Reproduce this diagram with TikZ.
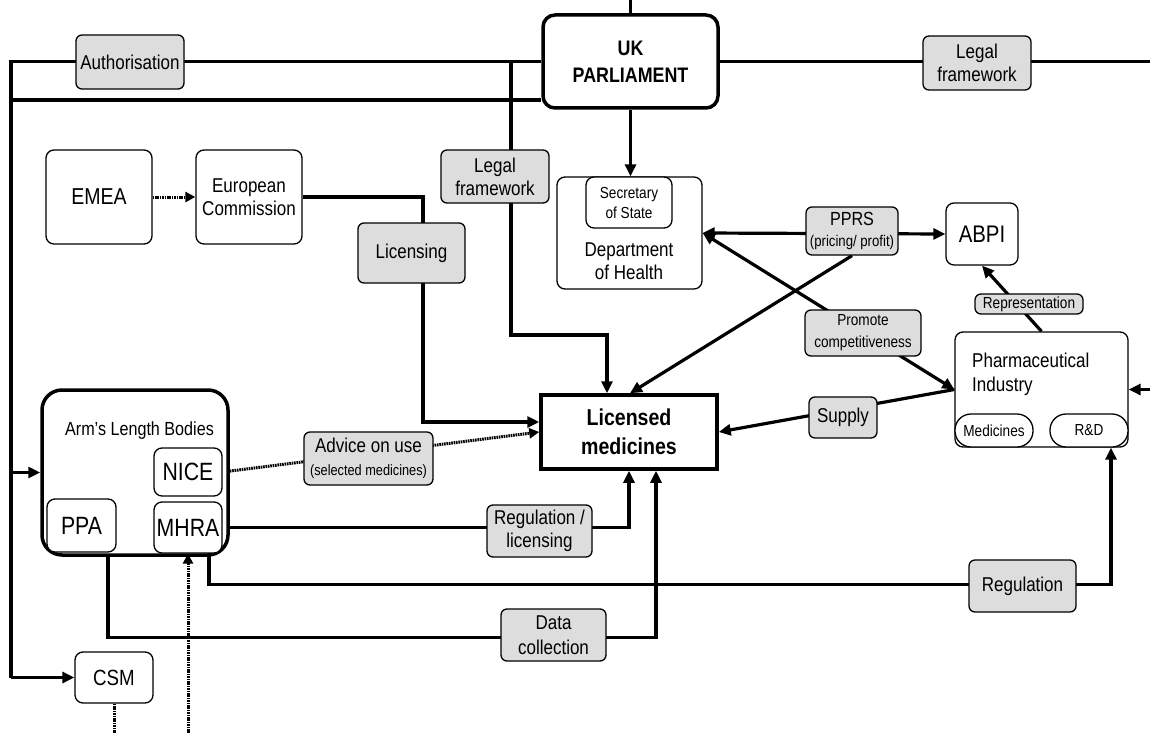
\documentclass[tikz,border=0pt]{standalone}
\usepackage{fontspec}
\setmainfont{Liberation Sans}[FakeStretch=0.85]
\usetikzlibrary{arrows.meta,backgrounds}
\definecolor{labgrey}{RGB}{221,221,221}
\newcommand{\fsz}[1]{\fontsize{#1}{#1}\selectfont}
\begin{document}
\begin{tikzpicture}[x=1pt,y=-1pt,
  box/.style={draw, line width=1.3pt, rounded corners=8pt, fill=white, inner sep=0pt, align=center, font=\fontsize{20}{23}\selectfont},
  lab/.style={draw, line width=1.3pt, rounded corners=6pt, fill=labgrey, inner sep=0pt, align=center, font=\fontsize{20}{23}\selectfont},
  ukbox/.style={draw, line width=3.5pt, rounded corners=12pt, fill=white, inner sep=0pt, align=center, font=\bfseries\fontsize{21}{27}\selectfont},
  lmbox/.style={draw, line width=3.5pt, fill=white, inner sep=0pt, align=center, font=\bfseries\fontsize{23}{29}\selectfont},
  albbox/.style={draw, line width=3.5pt, rounded corners=20pt, fill=white, inner sep=0pt},
  txt/.style={inner sep=0pt, align=center, font=\fontsize{20}{23}\selectfont},
  conn/.style={line width=3.2pt},
  arr/.style={conn, -{Triangle[length=12pt,width=11pt]}},
  darr/.style={conn, {Triangle[length=12pt,width=11pt]}-{Triangle[length=12pt,width=11pt]}},
  dotl/.style={line width=3pt, dash pattern=on 1.6pt off 0.8pt},
  dotarr/.style={dotl, -{Triangle[length=10pt,width=10pt]}}
]
\useasboundingbox (0,0) rectangle (1150,733);

% nodes
\node[ukbox, minimum width=175pt, minimum height=93pt] (uk) at (630.5,61.5) {UK\\PARLIAMENT};
\node[lab, minimum width=108pt, minimum height=54pt] (auth) at (130,62) {Authorisation};
\node[lab, minimum width=108pt, minimum height=54pt] (legR) at (977,63) {Legal\\framework};
\node[lab, minimum width=108pt, minimum height=53pt] (legL) at (495,176.5) {Legal\\framework};
\node[box, minimum width=106pt, minimum height=94pt, font=\fsz{23}] (emea) at (99,197) {EMEA};
\node[box, minimum width=106pt, minimum height=94pt] (ec) at (249,197) {European\\Commission};
\node[lab, minimum width=107pt, minimum height=60pt] (licg) at (411.5,253) {Licensing};
\node[box, minimum width=145pt, minimum height=112pt] (doh) at (629.5,233) {};
\node[box, minimum width=86pt, minimum height=51pt, font=\fontsize{16}{20}\selectfont] (sec) at (629,202.5) {Secretary\\of State};
\node[txt, font=\fontsize{20}{22.5}\selectfont] (dohtxt) at (629,261) {Department\\of Health};
\node[lab, minimum width=92pt, minimum height=48pt, font=\fontsize{19}{21}\selectfont] (pprs) at (852,231) {PPRS\\{\fsz{15.5}(pricing/ profit)}};
\node[box, minimum width=72pt, minimum height=62pt, font=\fsz{24}] (abpi) at (982,234) {ABPI};
\node[lab, minimum width=108pt, minimum height=20pt, font=\fsz{16}] (rep) at (1029,304) {Representation};
\node[lab, minimum width=116pt, minimum height=46pt, font=\fontsize{16}{22}\selectfont] (prom) at (863,333) {Promote\\competitiveness};
\node[box, minimum width=173pt, minimum height=115pt] (pharm) at (1041.5,389.5) {};
\node[txt, anchor=west, align=left, font=\fontsize{20}{24}\selectfont] (pharmtxt) at (972,374) {Pharmaceutical\\Industry};
\node[box, rounded corners=16pt, minimum width=78pt, minimum height=33pt, font=\fsz{16}] (med) at (994,430.5) {Medicines};
\node[box, rounded corners=16pt, minimum width=78pt, minimum height=33pt, font=\fsz{16}] (rd) at (1089,430.5) {R\&D};
\node[lmbox, minimum width=176pt, minimum height=74pt] (lm) at (629,432) {Licensed\\medicines};
\node[lab, minimum width=68pt, minimum height=41pt] (sup) at (843,417.5) {Supply};
\node[albbox, minimum width=186pt, minimum height=165pt] (alb) at (135,472.5) {};
\node[txt, font=\fsz{19}] (albtxt) at (139.5,431) {Arm’s Length Bodies};
\node[box, minimum width=68pt, minimum height=48pt, font=\fsz{25}] (nice) at (188,472) {NICE};
\node[box, minimum width=69pt, minimum height=53pt, font=\fsz{25}] (ppa) at (81.5,525.5) {PPA};
\node[box, minimum width=68pt, minimum height=51pt, font=\fsz{25}] (mhra) at (188,527.5) {MHRA};
\node[lab, minimum width=129pt, minimum height=53pt] (adv) at (368.5,458.5) {Advice on use\\{\fsz{15}(selected medicines)}};
\node[lab, minimum width=105pt, minimum height=52pt] (rl) at (539.5,531) {Regulation /\\licensing};
\node[lab, minimum width=107pt, minimum height=52pt] (reg) at (1022.5,586) {Regulation};
\node[lab, minimum width=105pt, minimum height=52pt, font=\fontsize{20}{25}\selectfont] (dc) at (553.5,635) {Data\\collection};
\node[box, minimum width=78pt, minimum height=51pt, font=\fsz{22}] (csm) at (114,677.5) {CSM};

% free ends
\coordinate (tl) at (11,61.5);
\coordinate (t2) at (11,100);
\coordinate (lalb) at (11,472.5);
\coordinate (bl) at (11,677.5);
\coordinate (re) at (1150,61.5);
\coordinate (stub) at (630.5,0);
\coordinate (v1) at (511,61.5);
\coordinate (v2) at (511,335);
\coordinate (c1) at (423,197);
\coordinate (rr) at (1150,389.5);
\coordinate (db) at (188,733);
\coordinate (cb) at (114,733);

\begin{pgfonlayer}{background}
\fill[white] (0,0) rectangle (1150,733);
% parliament lines
\draw[conn] (uk.west) -- (tl) -- (bl);
\draw[conn] (t2) -- (t2 -| uk.west);
\draw[conn] (uk.east) -- (re);
\draw[conn] (stub) -- (uk.north);
\draw[arr] (uk.south) -- (uk.south |- sec.north);
\draw[arr] (lalb) -- (alb.west);
\draw[arr] (bl) -- (csm.west);
\draw[arr] (v1) -- (v2) -| ([xshift=-22pt]lm.north);
% europe
\draw[dotarr] (emea.east) -- (ec.west);
\draw[arr] (ec.east) -- (c1) |- ([yshift=10pt]lm.west);
% arm's length bodies
\draw[dotarr] (nice.east) -- (lm.west);
\draw[arr] (mhra.east) -| (lm.south);
\draw[arr] ([xshift=21pt]mhra.south) -- ++(0,31) -| ([xshift=22pt]rd.south);
\draw[arr] ([xshift=26.5pt]ppa.south) -- ++(0,85) -| ([xshift=27pt]lm.south);
\draw[dotarr] (db) -- (mhra.south);
\draw[dotl] (csm.south) -- (cb);
% department of health & industry
\draw[darr] (doh.east) -- (abpi.west);
\draw[arr] (pprs.south) -- ([xshift=1pt]lm.north);
\draw[darr] (doh.east) -- (pharm.west);
\draw[arr] (pharm.west) -- (lm.east);
\draw[arr] (pharm.north) -- (abpi.south);
\draw[arr] (rr) -- (pharm.east);
\end{pgfonlayer}
\end{tikzpicture}
\end{document}
